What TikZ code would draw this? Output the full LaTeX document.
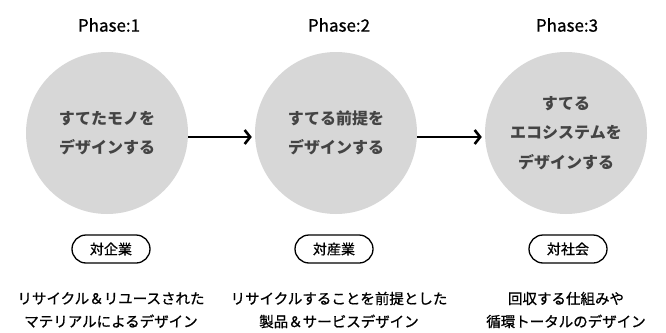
\documentclass[tikz,border=0pt]{standalone}
\usepackage{fontspec}
\setmainfont{Noto Sans CJK JP}
\newfontfamily\medfont[BoldFont={Noto Sans CJK JP}, BoldFeatures={FakeBold=0.9}]{Noto Sans CJK JP}
\usetikzlibrary{arrows.meta}
\definecolor{circfill}{HTML}{D7D7D7}
\definecolor{circtext}{HTML}{444444}
\tikzset{
  phase/.style={font=\medfont\bfseries\fontsize{17}{20}\selectfont, text=black},
  bubble/.style={circle, fill=circfill, minimum size=162pt, inner sep=0pt, align=center,
    text=circtext, font=\bfseries\fontsize{16}{29.5}\selectfont},
  flow/.style={line width=2.8pt, -{Straight Barb[length=5.5pt,width=14pt,line width=2.6pt]}},
  pill/.style={draw=black, line width=1.3pt, rounded corners=14pt, minimum width=78pt,
    minimum height=28pt, inner sep=0pt, font=\medfont\bfseries\fontsize{14}{16}\selectfont},
  desc/.style={align=center, font=\medfont\bfseries\fontsize{14.5}{23}\selectfont, text=black},
}
\begin{document}
\begin{tikzpicture}[x=1pt,y=-1pt]
\useasboundingbox (0,0) rectangle (666,332);
\node[phase] (p1) at (109,25) {Phase:1};
\node[phase] (p2) at (339,25) {Phase:2};
\node[phase] (p3) at (567,25) {Phase:3};
\node[bubble] (c1) at (107,133) {すてたモノを\\デザインする};
\node[bubble] (c2) at (336,133) {すてる前提を\\デザインする};
\node[bubble] (c3) at (566,133) {すてる\\エコシステムを\\デザインする};
\draw[flow] ([yshift=-4pt]c1.east) -- ([yshift=-4pt,xshift=-3pt]c2.west);
\draw[flow] ([yshift=-4pt]c2.east) -- ([yshift=-4pt,xshift=-3pt]c3.west);
\node[pill] (t1) at (111,249) {対企業};
\node[pill] (t2) at (334,249) {対産業};
\node[pill] (t3) at (568,249) {対社会};
\node[desc] (d1) at (111,310) {リサイクル＆リユースされた\\マテリアルによるデザイン};
\node[desc] (d2) at (339,310) {リサイクルすることを前提とした\\製品＆サービスデザイン};
\node[desc] (d3) at (566,310) {回収する仕組みや\\循環トータルのデザイン};
\end{tikzpicture}
\end{document}
